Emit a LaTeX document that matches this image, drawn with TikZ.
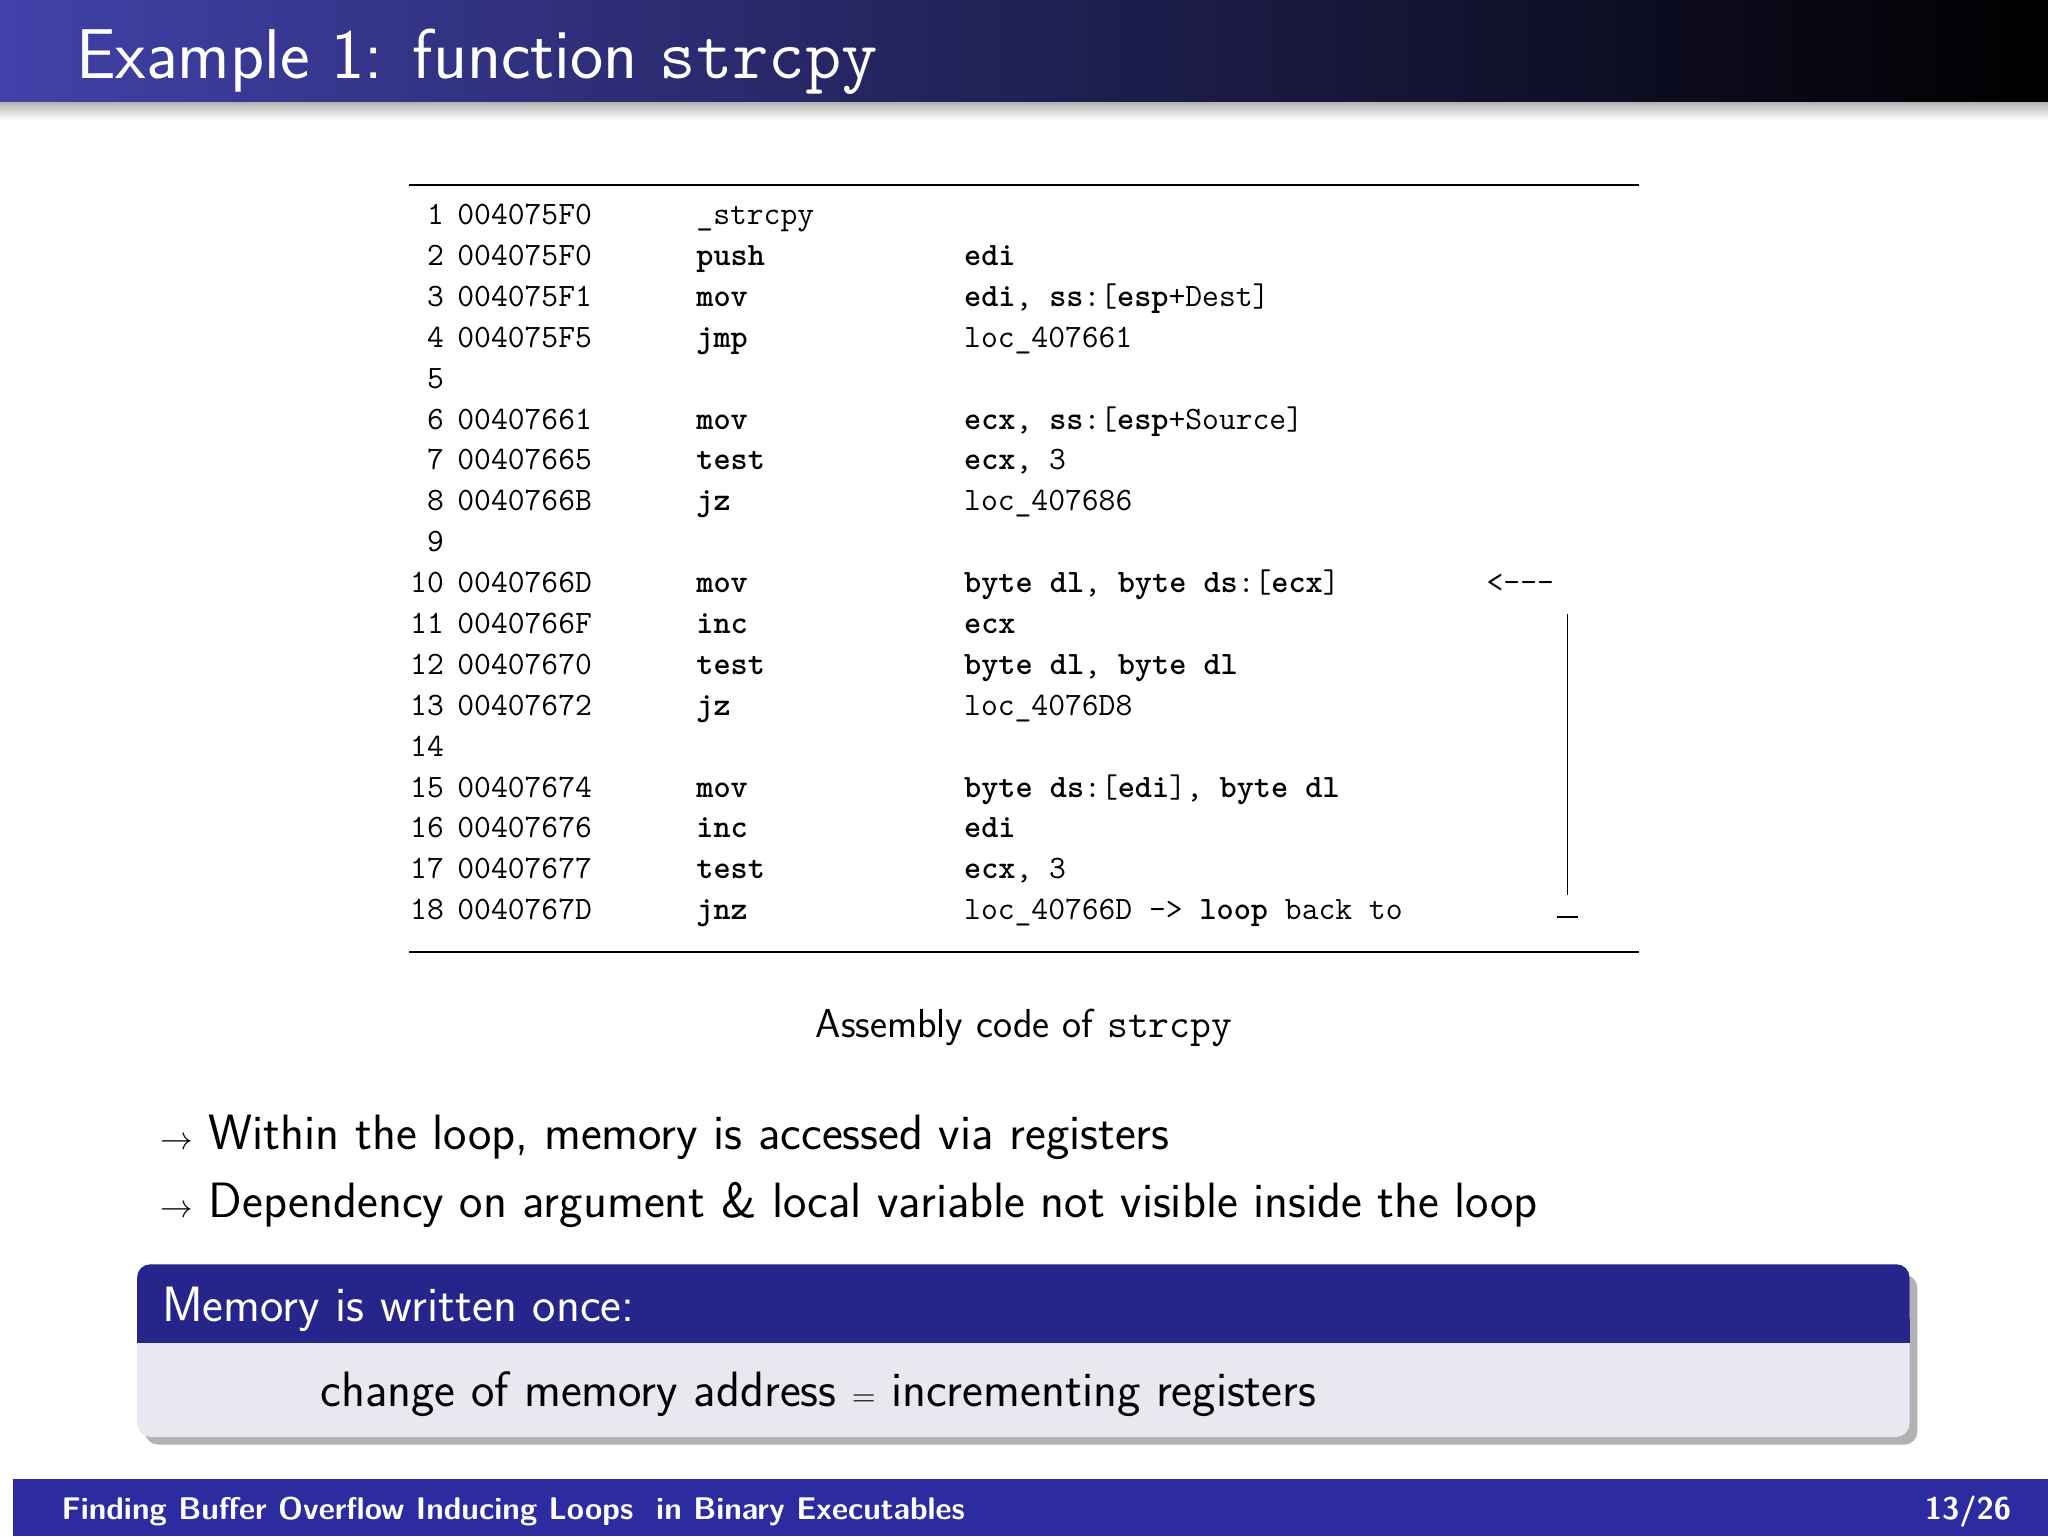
\documentclass[tikz,border=0pt]{standalone}
\usetikzlibrary{shadows}
\definecolor{bblue}{HTML}{2C2CA0}
\definecolor{btitle}{HTML}{25258C}
\definecolor{bbody}{HTML}{E8E8F0}
\begin{document}
\begin{tikzpicture}[x=1pt,y=-1pt,
  cl/.style={anchor=base west,inner sep=0pt,font=\fontsize{25}{25}\selectfont\ttfamily},
  num/.style={anchor=base east,inner sep=0pt,font=\fontsize{25}{25}\selectfont\ttfamily},
  bul/.style={anchor=base west,inner sep=0pt,font=\fontsize{38}{38}\selectfont\sffamily}]
\useasboundingbox (0,0) rectangle (1568,1176);
\fill[white] (0,0) rectangle (1568,1176);
% title bar
\shade[top color=black!30,bottom color=white] (0,78) rectangle (1568,92);
\shade[left color=bblue!90!white,right color=black] (0,0) rectangle (1568,78);
\node[anchor=base west,inner sep=0pt,text=white,font=\fontsize{54}{54}\selectfont\sffamily] (title) at (58,60) {Example 1: function \texttt{strcpy}};
% rules
\draw[line width=1.5] (313,142) coordinate (r1) -- (1255,142) coordinate (r2);
\draw[line width=1.5] (313,729) coordinate (r3) -- (1255,729) coordinate (r4);
% code
\foreach \n/\a/\m/\o [count=\i] in {
 1/004075F0/\_strcpy/{},
 2/004075F0/\textbf{push}/\textbf{edi},
 3/004075F1/\textbf{mov}/{\textbf{edi}, \textbf{ss}:[\textbf{esp}+Dest]},
 4/004075F5/\textbf{jmp}/loc\_407661,
 5/{}/{}/{},
 6/00407661/\textbf{mov}/{\textbf{ecx}, \textbf{ss}:[\textbf{esp}+Source]},
 7/00407665/\textbf{test}/{\textbf{ecx}, 3},
 8/0040766B/\textbf{jz}/loc\_407686,
 9/{}/{}/{},
 10/0040766D/\textbf{mov}/{\textbf{byte dl}, \textbf{byte ds}:[\textbf{ecx}]},
 11/0040766F/\textbf{inc}/\textbf{ecx},
 12/00407670/\textbf{test}/{\textbf{byte dl}, \textbf{byte dl}},
 13/00407672/\textbf{jz}/loc\_4076D8,
 14/{}/{}/{},
 15/00407674/\textbf{mov}/{\textbf{byte ds}:[\textbf{edi}], \textbf{byte dl}},
 16/00407676/\textbf{inc}/\textbf{edi},
 17/00407677/\textbf{test}/{\textbf{ecx}, 3},
 18/0040767D/\textbf{jnz}/{loc\_40766D -> \textbf{loop} back to}}{
  \pgfmathsetmacro{\yy}{172+(\i-1)*31.3}
  \node[num] (n\i) at (340,\yy) {\n};
  \node[cl] (a\i) at (350,\yy) {\a};
  \node[cl] (m\i) at (533,\yy) {\m};
  \node[cl] (o\i) at (738,\yy) {\o};
}
\node[cl] (back) at (1138,454) {<---};
\draw[line width=1.2] (1200,470) coordinate (v1) -- (1200,685) coordinate (v2);
\draw[line width=1.2] (1192,702) coordinate (h1) -- (1208,702) coordinate (h2);
% caption
\node[anchor=base,inner sep=0pt,font=\fontsize{31}{31}\selectfont\sffamily] (cap) at (784,794) {Assembly code of \texttt{strcpy}};
% bullets
\node[bul] (b1) at (123,880) {$\rightarrow$ Within the loop, memory is accessed via registers};
\node[bul] (b2) at (123,932) {$\rightarrow$ Dependency on argument \& local variable not visible inside the loop};
% block
\fill[black!30,rounded corners=10] (111,976) rectangle (1468,1106);
\fill[bbody,rounded corners=10] (105,968) rectangle (1462,1100);
\fill[btitle,rounded corners=10] (105,968) rectangle (1462,1028);
\fill[btitle] (105,1010) rectangle (1462,1028);
\node[anchor=base west,inner sep=0pt,text=white,font=\fontsize{38}{38}\selectfont\sffamily] (bt) at (124,1012) {Memory is written once:};
\node[anchor=base west,inner sep=0pt,font=\fontsize{38}{38}\selectfont\sffamily] (bb) at (245,1077) {change of memory address $=$ incrementing registers};
% footer
\fill[bblue] (10,1132) rectangle (1568,1176);
\node[anchor=base west,inner sep=0pt,text=white,font=\fontsize{24}{24}\selectfont\sffamily\bfseries] (f1) at (47,1163) {Finding Buffer Overflow Inducing Loops\ \ in Binary Executables};
\node[anchor=base east,inner sep=0pt,text=white,font=\fontsize{24}{24}\selectfont\sffamily\bfseries] (f2) at (1540,1163) {13/26};
\end{tikzpicture}
\end{document}
